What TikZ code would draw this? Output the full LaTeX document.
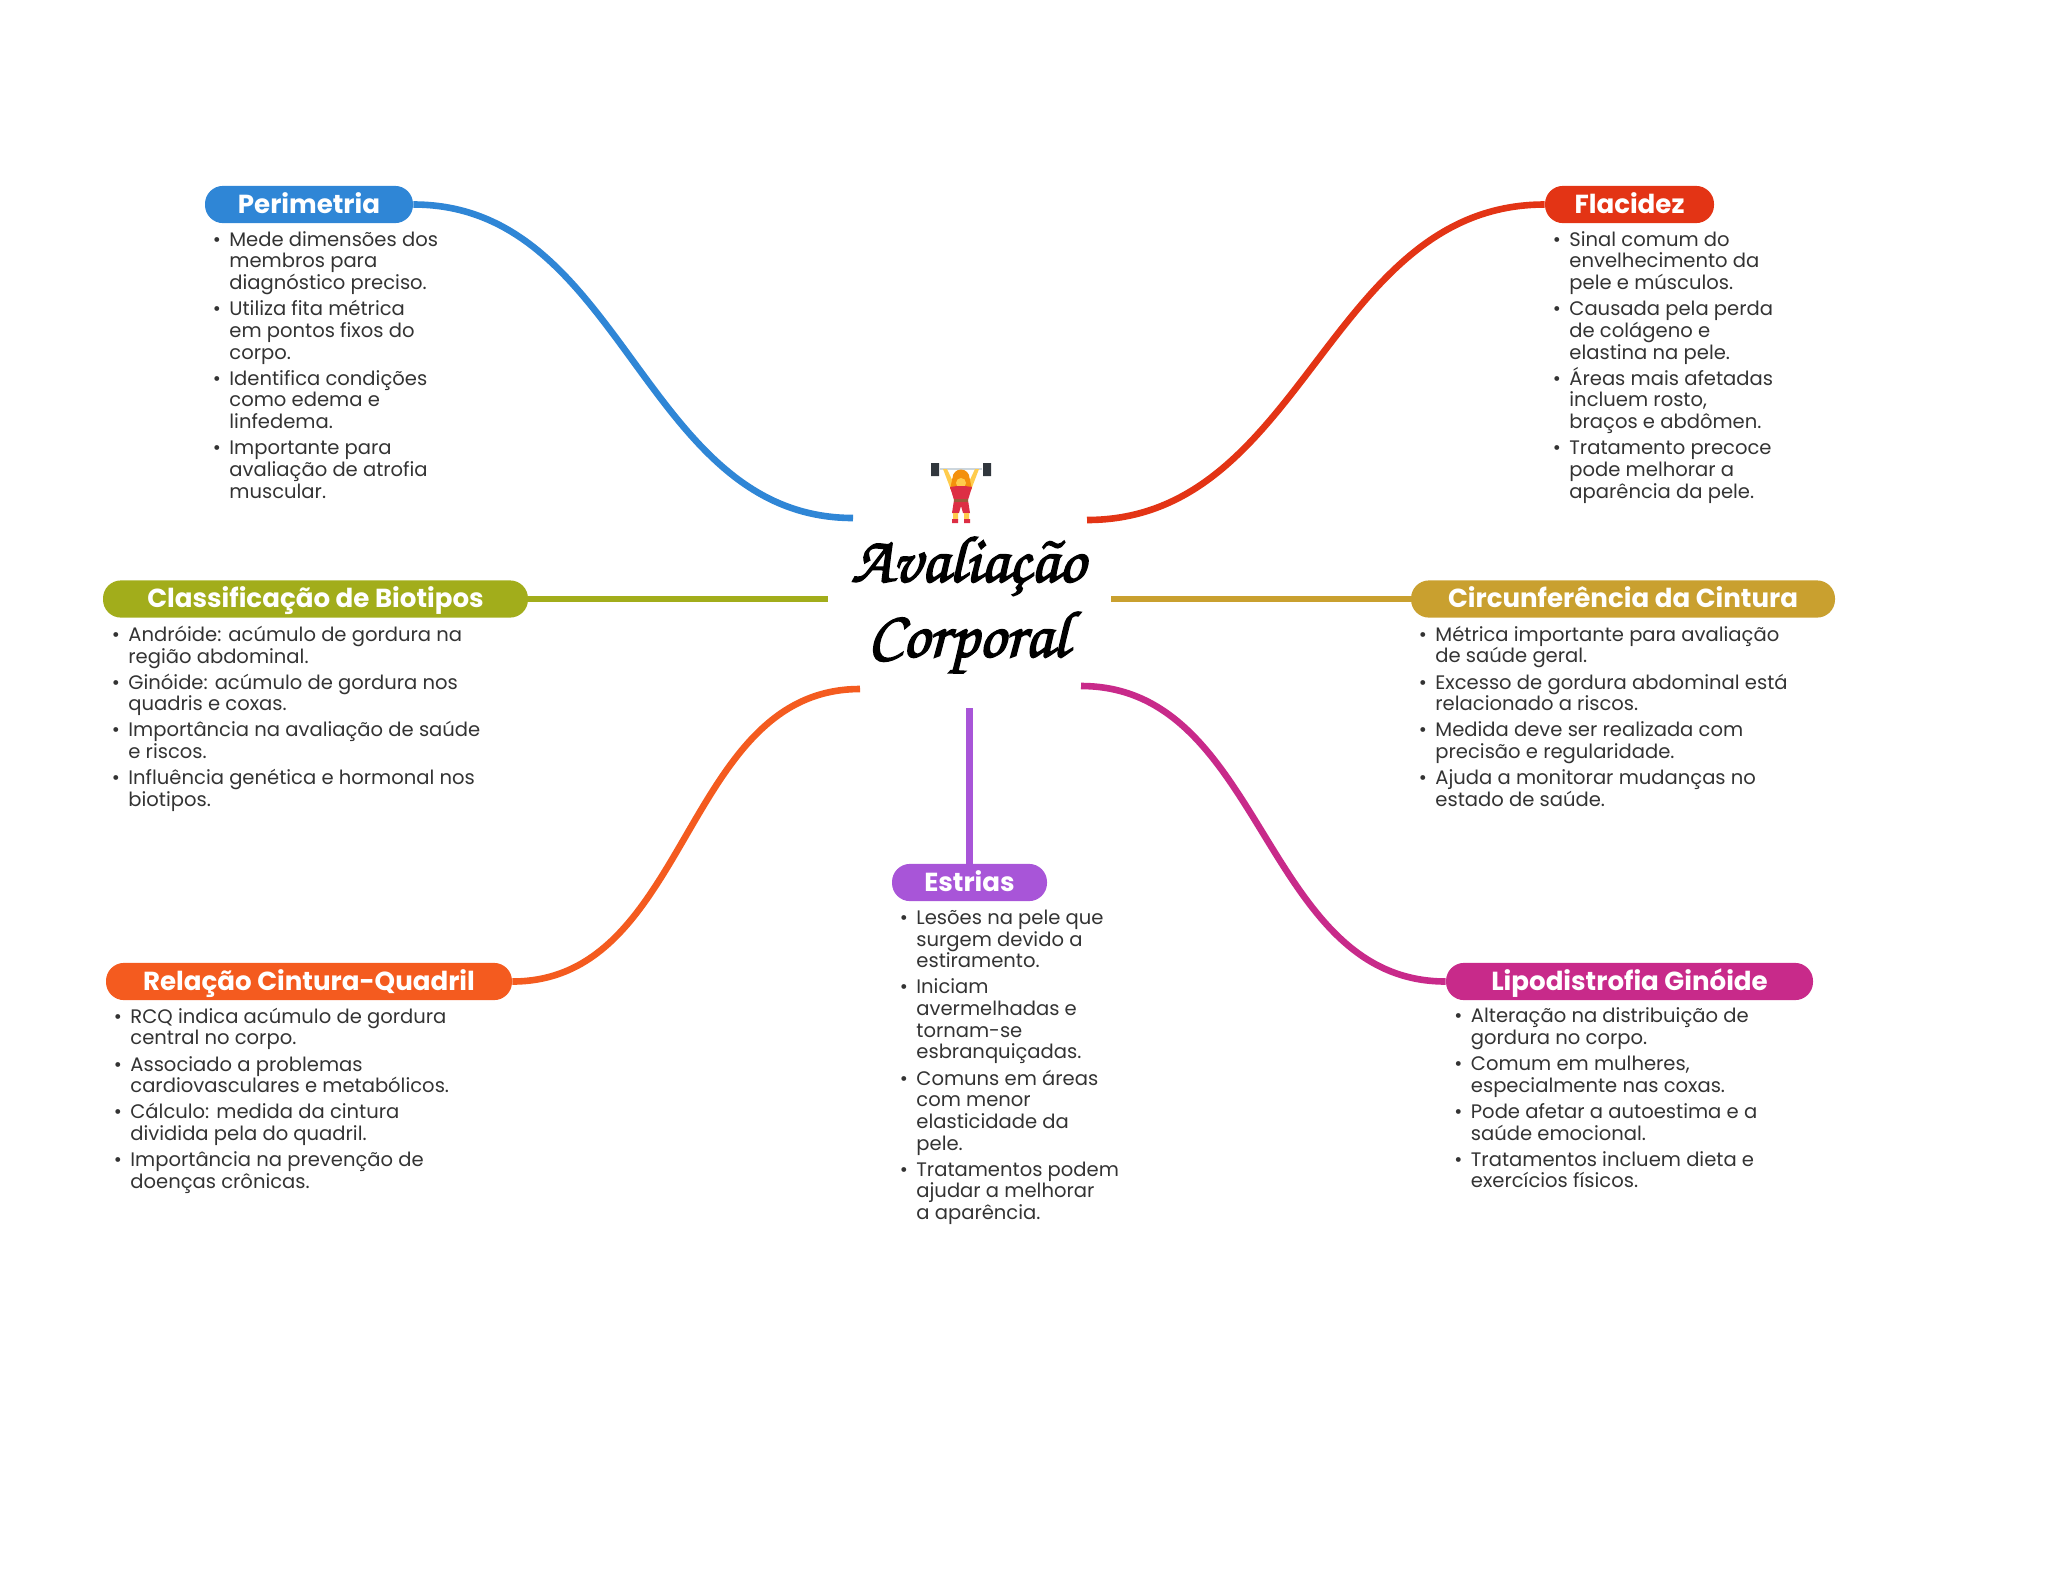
\documentclass[tikz,border=0pt]{standalone}
\usepackage{fontspec}
\setmainfont{Poppins}
\newfontfamily\titlefont[FakeBold=2.4]{TeX Gyre Chorus}
\usepackage{xcolor}
\usetikzlibrary{positioning,calc}
\definecolor{pblue}{HTML}{2F86D6}
\definecolor{pred}{HTML}{E33415}
\definecolor{polive}{HTML}{A2AD1B}
\definecolor{pgold}{HTML}{C9A02F}
\definecolor{porange}{HTML}{F45B1F}
\definecolor{pmagenta}{HTML}{C82A8A}
\definecolor{ppurple}{HTML}{A855D8}
\definecolor{ptext}{HTML}{333333}
\definecolor{iplate}{HTML}{31373D}
\definecolor{ibar}{HTML}{CCD6DD}
\definecolor{iskin}{HTML}{FFCC4D}
\definecolor{ihair}{HTML}{F4900C}
\definecolor{ibody}{HTML}{DD2E44}
\definecolor{ibelt}{HTML}{9B5B3A}
\newcommand{\bul}{\llap{\textbullet\hspace{4.2pt}}}
\tikzset{
  % Pill heading filled with the colour of its branch.
  pill/.style  = {rectangle, rounded corners=9pt, fill=#1, text=white, align=center,
                  inner sep=0pt, minimum height=18.6pt, text height=10.3pt, text depth=1.5pt,
                  font=\fontsize{13.05}{15}\selectfont\bfseries},
  lane/.style  = {line width=3.3pt, #1},
  lst/.style   = {anchor=north west, inner sep=0pt, align=left, text=ptext,
                  font=\fontsize{9.78}{10.85}\selectfont},
  ttl/.style   = {align=center, inner sep=0pt, text=black, font=\fontsize{33}{37.5}\titlefont},
}
\begin{document}
\begin{tikzpicture}[x=0.5pt,y=-0.5pt]
\useasboundingbox (0,0) rectangle (2048,1569);
\node[ttl] (main) at (968,605) {Avaliação\\Corporal};
% icon above the title
\begin{scope}[shift={(961,493)}]
  \fill[ibar] (-21,-25.5) rectangle (21,-23);
  \fill[iplate] (-30,-30) rectangle (-22,-17) (22,-30) rectangle (30,-17);
  \fill[iskin] (-18,-24) -- (-14,-24) -- (-6,-7) -- (-10,-3) -- cycle
               (18,-24) -- (14,-24) -- (6,-7) -- (10,-3) -- cycle;
  \fill[ihair] (0,-15) circle (8.5);
  \fill[ihair] (-8.5,-15) -- (8.5,-15) -- (11,-4) -- (-11,-4) -- cycle;
  \fill[iskin] (0,-10) circle (5);
  \fill[ibody] (-11,-6) -- (-4,-7) -- (4,-7) -- (11,-6) -- (7,7) -- (9,20) -- (2,20) -- (0,13)
               -- (-2,20) -- (-9,20) -- (-7,7) -- cycle;
  \fill[ibelt] (-7,6) rectangle (7,9);
  \fill[iskin] (-8,20) rectangle (-3,27) (3,20) rectangle (8,27);
  \fill[ibody] (-9,26) rectangle (-3,30) (3,26) rectangle (9,30);
\end{scope}
\coordinate (p1) at (853,518);
\coordinate (p2) at (1087,520);
\coordinate (p3) at (828,599);
\coordinate (p4) at (1111,599);
\coordinate (p5) at (860,689);
\coordinate (p6) at (1081,686);
\coordinate (p7) at (969.5,708);
\node[pill=pblue,    minimum width=104pt]   (peri) at (309,204.5) {Perimetria};
\node[pill=pred,     minimum width=84.5pt]  (flac) at (1629.5,204.5) {Flacidez};
\node[pill=polive,   minimum width=212.5pt] (biot) at (315.5,599) {Classificação de Biotipos};
\node[pill=pgold,    minimum width=212pt]   (cint) at (1623,599) {Circunferência da Cintura};
\node[pill=porange,  minimum width=203pt]   (rcq)  at (309,981.5) {Relação Cintura-Quadril};
\node[pill=pmagenta, minimum width=183.5pt] (lipo) at (1629.5,981.5) {Lipodistrofia Ginóide};
\node[pill=ppurple,  minimum width=77.5pt]  (estr) at (969.5,882.5) {Estrias};
\draw[lane=pblue]    (peri.east) to[out=0,in=180] (p1);
\draw[lane=pred]     (flac.west) to[out=180,in=0] (p2);
\draw[lane=polive]   (biot.east) -- (p3);
\draw[lane=pgold]    (cint.west) -- (p4);
\draw[lane=porange]  (rcq.east) to[out=0,in=180] (p5);
\draw[lane=pmagenta] (lipo.west) to[out=180,in=0] (p6);
\draw[lane=ppurple]  (estr.north) -- (p7);
\node[lst] (tperi) at (229,231) {\bul Mede dimensões dos\\membros para\\diagnóstico preciso.\\[2.2pt]
  \bul Utiliza fita métrica\\em pontos fixos do\\corpo.\\[2.2pt]
  \bul Identifica condições\\como edema e\\linfedema.\\[2.2pt]
  \bul Importante para\\avaliação de atrofia\\muscular.};
\node[lst] (tflac) at (1569,231) {\bul Sinal comum do\\envelhecimento da\\pele e músculos.\\[2.2pt]
  \bul Causada pela perda\\de colágeno e\\elastina na pele.\\[2.2pt]
  \smash{\bul Áreas mais afetadas}\\incluem rosto,\\braços e abdômen.\\[2.2pt]
  \bul Tratamento precoce\\pode melhorar a\\aparência da pele.};
\node[lst] (tbiot) at (128,625.5) {\bul Andróide: acúmulo de gordura na\\região abdominal.\\[2.2pt]
  \bul Ginóide: acúmulo de gordura nos\\quadris e coxas.\\[2.2pt]
  \bul Importância na avaliação de saúde\\e riscos.\\[2.2pt]
  \bul Influência genética e hormonal nos\\biotipos.};
\node[lst] (tcint) at (1435,625.5) {\bul Métrica importante para avaliação\\de saúde geral.\\[2.2pt]
  \bul Excesso de gordura abdominal está\\relacionado a riscos.\\[2.2pt]
  \bul Medida deve ser realizada com\\precisão e regularidade.\\[2.2pt]
  \bul Ajuda a monitorar mudanças no\\estado de saúde.};
\node[lst] (trcq) at (130,1007.5) {\bul RCQ indica acúmulo de gordura\\central no corpo.\\[2.2pt]
  \bul Associado a problemas\\cardiovasculares e metabólicos.\\[2.2pt]
  \bul Cálculo: medida da cintura\\dividida pela do quadril.\\[2.2pt]
  \bul Importância na prevenção de\\doenças crônicas.};
\node[lst] (tlipo) at (1470.5,1007.5) {\bul Alteração na distribuição de\\gordura no corpo.\\[2.2pt]
  \bul Comum em mulheres,\\especialmente nas coxas.\\[2.2pt]
  \bul Pode afetar a autoestima e a\\saúde emocional.\\[2.2pt]
  \bul Tratamentos incluem dieta e\\exercícios físicos.};
\node[lst] (testr) at (916,909.5) {\bul Lesões na pele que\\surgem devido a\\estiramento.\\[2.2pt]
  \bul Iniciam\\avermelhadas e\\tornam-se\\esbranquiçadas.\\[2.2pt]
  \bul Comuns em áreas\\com menor\\elasticidade da\\pele.\\[2.2pt]
  \bul Tratamentos podem\\ajudar a melhorar\\a aparência.};
\end{tikzpicture}
\end{document}
